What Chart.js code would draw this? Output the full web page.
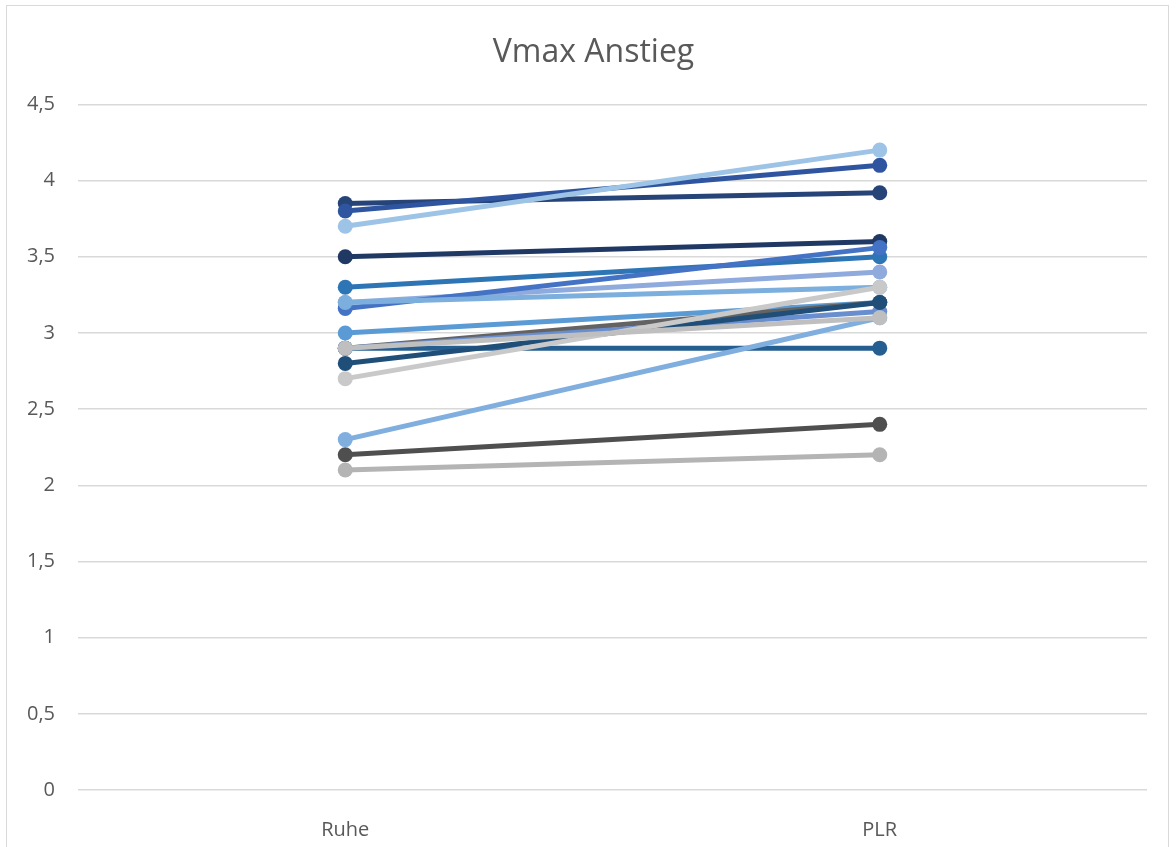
<!DOCTYPE html>
<html>
<head>
<meta charset="utf-8">
<script src="https://cdn.jsdelivr.net/npm/chart.js@4"></script>
<style>
  body { margin: 0; background: #fff; overflow: hidden; }
  #frame {
    position: absolute; left: 6px; top: 5px;
    width: 1163px; height: 850px;
    border: 1px solid #d9d9d9; box-sizing: border-box;
  }
  #wrap { position: absolute; left: 0; top: 0; width: 1161px; height: 848px; }
</style>
</head>
<body>
<div id="frame"><div id="wrap"><canvas id="vmax"></canvas></div></div>
<script>
const labels = ['Ruhe', 'PLR'];

// one pair of values (Ruhe, PLR) per subject
const ruhe = [3.85, 3.8, 3.7, 3.5, 3.3, 3.2, 3.16, 3.2, 3.0, 2.9, 2.9, 2.9, 2.8, 2.7, 2.3, 2.9, 2.2, 2.1];
const plr  = [3.92, 4.1, 4.2, 3.6, 3.5, 3.4, 3.56, 3.3, 3.2, 3.2, 2.9, 3.14, 3.2, 3.3, 3.1, 3.1, 2.4, 2.2];
const colors = [
  '#264478', '#2F55A0', '#9DC3E6', '#1F3864', '#2E75B6', '#8FAADC',
  '#4472C4', '#7CAFDD', '#5B9BD5', '#636363', '#255E91', '#698ED0',
  '#1F4E79', '#C9C9C9', '#7FAEDF', '#BFBFBF', '#4F4F4F', '#B4B4B4'
];

const yTicks = [0, 0.5, 1, 1.5, 2, 2.5, 3, 3.5, 4, 4.5];

const datasets = ruhe.map((r, i) => ({
  label: 'Reihe ' + (i + 1),
  data: [r, plr[i]],
  borderColor: colors[i],
  backgroundColor: colors[i],
  borderWidth: 5,
  pointRadius: 7.5,
  pointHoverRadius: 7.5,
  pointBorderWidth: 0,
  fill: false,
  order: ruhe.length - i   // later series on top
}));

const ctx = document.getElementById('vmax').getContext('2d');

new Chart(ctx, {
  type: 'line',
  data: { labels: labels, datasets: datasets },
  options: {
    responsive: true,
    maintainAspectRatio: false,
    animation: false,
    layout: { padding: { left: 12, right: 0, top: 0, bottom: 10 } },
    plugins: {
      legend: { display: false },
      tooltip: { enabled: false },
      title: {
        display: true,
        text: 'Vmax Anstieg',
        color: '#595959',
        font: { family: 'Open Sans', size: 32, weight: 'normal' },
        padding: { top: 28, bottom: 32 }
      }
    },
    scales: {
      x: {
        offset: true,
        grid: { display: false },
        border: { display: false },
        afterFit: axis => { axis.height = 54; },
        ticks: {
          color: '#595959',
          font: { family: 'Open Sans', size: 20 },
          padding: 20
        }
      },
      y: {
        min: 0,
        max: 4.5,
        afterBuildTicks: axis => { axis.ticks = yTicks.map(v => ({ value: v })); },
        afterFit: axis => { axis.width = 59; },
        grid: { color: '#d9d9d9', lineWidth: 1.5, drawTicks: false },
        border: { display: false },
        ticks: {
          color: '#595959',
          font: { family: 'Open Sans', size: 20 },
          padding: 23,
          callback: v => String(v).replace('.', ',')
        }
      },
      // empty right-hand strip, keeps the title centred over the whole frame
      yRight: {
        position: 'right',
        grid: { display: false },
        border: { display: false },
        ticks: { display: false },
        afterFit: axis => { axis.width = 21; }
      }
    }
  }
});
</script>
</body>
</html>
